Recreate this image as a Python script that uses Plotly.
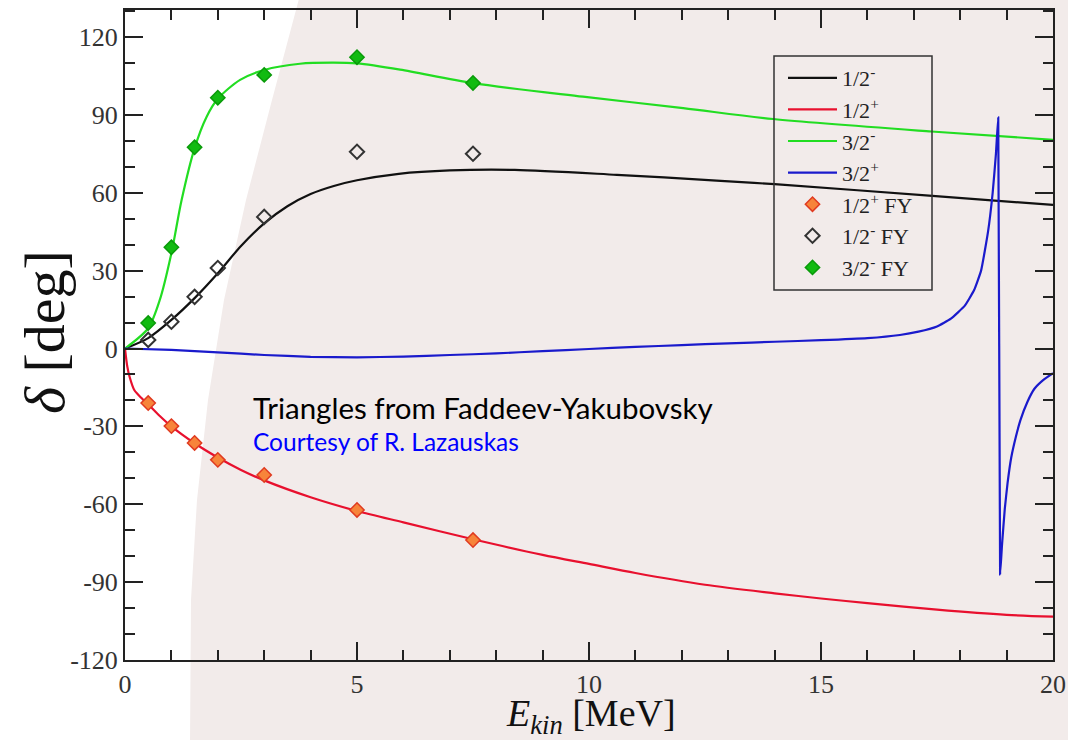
import plotly.graph_objects as go

# ---------------- data ----------------
E_half_minus = [0, 0.5, 1, 1.5, 2, 2.5, 3, 3.5, 4, 4.5, 5, 5.9, 7, 8.4, 10.6, 12.75, 14, 17.4, 20]
d_half_minus = [0, 4, 11, 19.4, 29, 39.5, 48.2, 54.8, 59.5, 62.6, 64.8, 67.3, 68.6, 68.8, 66.9, 64.7, 63.3, 58.8, 55.3]

E_half_plus = [0, 0.05, 0.1, 0.2, 0.35, 0.5, 0.75, 1, 1.5, 2, 2.5, 3, 4, 5, 6, 7.5, 9, 10, 11, 12.5, 14, 15, 16, 17.5, 19, 20]
d_half_plus = [0, -7, -11, -16, -19, -21.5, -26, -30, -36.5, -42, -46.8, -50.8, -57.3, -62.6, -67, -73.5, -79.5, -83, -86.5, -91, -94.3, -96.3, -98.1, -100.6, -102.6, -103.3]

E_three_minus = [0, 0.5, 0.75, 1, 1.22, 1.5, 1.76, 2, 2.48, 3, 3.77, 4.49, 5, 5.93, 7.5, 9.87, 12.03, 13.97, 17.38, 20]
d_three_minus = [0, 7.8, 18.7, 36.7, 57.2, 77.2, 89.3, 96.2, 103.5, 107.3, 109.7, 110.1, 109.8, 107.4, 102.2, 97, 92.6, 88.4, 83.6, 80.4]

E_three_plus = [0, 1, 2, 3, 4, 5, 6, 7, 8, 9, 10, 11, 12, 13, 14, 15, 16, 16.7, 17.1, 17.5, 17.8, 18.1, 18.3, 18.45, 18.6, 18.7, 18.77, 18.82,
                18.86, 18.9, 18.96, 19.02, 19.1, 19.2, 19.3, 19.45, 19.6, 19.8, 20]
d_three_plus = [0, -0.5, -1.5, -2.5, -3.2, -3.4, -3.1, -2.5, -1.9, -1, -0.2, 0.6, 1.3, 2, 2.6, 3.2, 4, 5.2, 6.5, 8.5, 11.5, 16.5, 22.5, 30, 45, 60, 75, 89,
                -87, -76, -62, -52, -42, -34, -27.5, -20.5, -15.5, -12, -9.5]

E_fy = [0.5, 1, 1.5, 2, 3, 5, 7.5]
fy_half_plus = [-21, -29.9, -36.4, -42.9, -48.7, -62.2, -73.8]
fy_half_minus = [3.3, 10.3, 19.9, 31, 50.7, 75.8, 75.0]
fy_three_minus = [9.8, 39, 77.5, 96.6, 105.4, 112.2, 102.3]

x_ticks = [0, 5, 10, 15, 20]
x_labels = ["0", "5", "10", "15", "20"]
y_ticks = [-120, -90, -60, -30, 0, 30, 60, 90, 120]
y_labels = ["-120", "-90", "-60", "-30", "0", "30", "60", "90", "120"]

# ---------------- figure ----------------
W, H = 1068, 740
L, R, T, B = 125, 1053, 10, 660
PINK = "#f2ebea"


def px(xp, yp):
    return (xp - L) / (R - L), (B - yp) / (B - T)


fig = go.Figure()

fig.add_trace(go.Scatter(x=E_half_minus, y=d_half_minus, mode="lines",
                         line=dict(color="#111111", width=2.2, shape="spline", smoothing=0.8),
                         name="1/2<sup>-</sup>"))
fig.add_trace(go.Scatter(x=E_half_plus, y=d_half_plus, mode="lines",
                         line=dict(color="#e8102e", width=2.2, shape="spline", smoothing=0.8),
                         name="1/2<sup>+</sup>"))
fig.add_trace(go.Scatter(x=E_three_minus, y=d_three_minus, mode="lines",
                         line=dict(color="#22dd22", width=2.2, shape="spline", smoothing=0.8),
                         name="3/2<sup>-</sup>"))
fig.add_trace(go.Scatter(x=E_three_plus, y=d_three_plus, mode="lines",
                         line=dict(color="#1a1acc", width=2.2, shape="spline", smoothing=0.4),
                         name="3/2<sup>+</sup>"))
fig.add_trace(go.Scatter(x=E_fy, y=fy_half_plus, mode="markers",
                         marker=dict(symbol="diamond", size=11, color="#f7843a",
                                     line=dict(color="#e03a20", width=1.5)),
                         name="1/2<sup>+</sup> FY"))
fig.add_trace(go.Scatter(x=E_fy, y=fy_half_minus, mode="markers",
                         marker=dict(symbol="diamond-open", size=11, color="#333333",
                                     line=dict(color="#333333", width=2)),
                         name="1/2<sup>-</sup> FY"))
fig.add_trace(go.Scatter(x=E_fy, y=fy_three_minus, mode="markers",
                         marker=dict(symbol="diamond", size=11, color="#11bb11",
                                     line=dict(color="#0a9a0a", width=1.5)),
                         name="3/2<sup>-</sup> FY"))

# white left part of the slide background
pts = [(-5, -5), (300, -5), (272, 100), (246, 200), (224, 300), (208, 400),
       (197, 500), (191, 600), (190, 745), (-5, 745)]
path = "M " + " L ".join("%.5f,%.5f" % px(a, b) for a, b in pts) + " Z"
fig.add_shape(type="path", path=path, xref="paper", yref="paper",
              fillcolor="white", line=dict(width=0), layer="below")

# legend frame
x0, y0 = px(774, 56)
x1, y1 = px(932, 290)
fig.add_shape(type="rect", x0=x0, y0=y0, x1=x1, y1=y1, xref="paper", yref="paper",
              line=dict(color="#333333", width=1.5), fillcolor="rgba(0,0,0,0)", layer="above")

axis_common = dict(showgrid=False, zeroline=False, showline=True, linecolor="#222222",
                   linewidth=2, mirror="ticks", ticks="inside", tickwidth=2,
                   tickcolor="#222222", automargin=False, ticklabelstandoff=0,
                   tickfont=dict(family="Liberation Serif", size=26, color="#333333"))

fig.update_xaxes(range=[0, 20], tickvals=x_ticks, ticktext=x_labels, ticklen=18,
                 minor=dict(dtick=1, ticklen=10, ticks="inside", tickwidth=2, tickcolor="#222222"),
                 **axis_common)
fig.update_yaxes(range=[-120, 130.4], tickvals=y_ticks, ticktext=y_labels, ticklen=18,
                 minor=dict(dtick=10, tick0=0, ticklen=10, ticks="inside", tickwidth=2, tickcolor="#222222"),
                 **axis_common)

# axis titles
fig.add_annotation(x=px(44, 0)[0], y=px(0, 332)[1], xref="paper", yref="paper",
                   xanchor="center", yanchor="middle", showarrow=False, textangle=-90,
                   text="<i>δ</i> [deg]",
                   font=dict(family="Liberation Serif", size=58, color="#111111"))
fig.add_annotation(x=px(591, 0)[0], y=px(0, 741)[1], xref="paper", yref="paper",
                   xanchor="center", yanchor="bottom", showarrow=False, borderpad=0,
                   text="<i>E</i><sub><i>kin</i></sub> [MeV]",
                   font=dict(family="Liberation Serif", size=38, color="#111111"))

fig.add_annotation(x=px(251, 0)[0], y=px(0, 407)[1], xref="paper", yref="paper",
                   xanchor="left", yanchor="middle", showarrow=False,
                   text="Triangles from Faddeev-Yakubovsky",
                   font=dict(family="Lato", size=29.5, color="#000000"))
fig.add_annotation(x=px(251, 0)[0], y=px(0, 441)[1], xref="paper", yref="paper",
                   xanchor="left", yanchor="middle", showarrow=False,
                   text="Courtesy of R. Lazauskas",
                   font=dict(family="Lato", size=24.5, color="#0000ff"))

lx, ly = px(783, 57)
fig.update_layout(
    width=W, height=H,
    margin=dict(l=L, r=W - R, t=T, b=H - B, pad=0),
    paper_bgcolor=PINK, plot_bgcolor="rgba(0,0,0,0)",
    showlegend=True,
    legend=dict(x=lx, y=ly, xanchor="left", yanchor="top",
                bgcolor="rgba(0,0,0,0)", borderwidth=0,
                font=dict(family="Liberation Serif", size=22, color="#222222"),
                itemwidth=49),
)

fig.write_html("out.html")
